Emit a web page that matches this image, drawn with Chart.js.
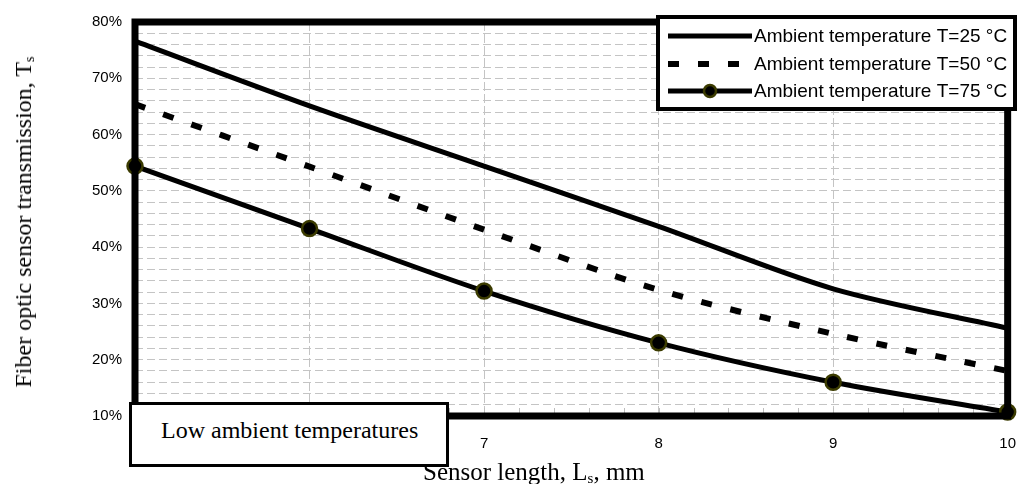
<!DOCTYPE html>
<html>
<head>
<meta charset="utf-8">
<script src="https://cdn.jsdelivr.net/npm/chart.js@4.4.1/dist/chart.umd.min.js"></script>
<style>
  html, body { margin: 0; padding: 0; background: #fff; }
  #wrap { position: relative; width: 1035px; height: 484px; overflow: hidden; }
  #c { position: absolute; left: 0; top: 0; }
  .serif { font-family: "Liberation Serif", "Times New Roman", serif; color: #000; white-space: nowrap; }
  .ytitle { position: absolute; left: 23px; top: 222px; transform: translate(-50%, -50%) rotate(-90deg); font-size: 24px; line-height: 24px; }
  .xtitle { position: absolute; left: 423px; top: 459px; font-size: 25px; line-height: 25px; }
  sub { font-size: 60%; vertical-align: -0.2em; line-height: 0; }
  .note { position: absolute; left: 129px; top: 402px; width: 285px; height: 46px; border: 3px solid #000; background: #fff;
    font-size: 24px; line-height: 24px; padding: 13px 0 0 29px; }
  .legend { position: absolute; left: 656px; top: 15px; width: 353px; height: 88px; border: 4px solid #000; background: #fff; }
  .legend canvas { position: absolute; left: 0; top: 0; }
</style>
</head>
<body>
<div id="wrap">
  <canvas id="c" width="1035" height="484"></canvas>
  <div class="legend"><canvas id="lg" width="353" height="88"></canvas></div>
  <div class="ytitle serif">Fiber optic sensor transmission, T<sub>s</sub></div>
  <div class="xtitle serif">Sensor length, L<sub>s</sub>, mm</div>
  <div class="note serif">Low ambient temperatures</div>
</div>
<script>
// ---- data ----
const sensorLength = [5, 6, 7, 8, 9, 10];
const t25 = [76.6, 65.1, 54.4, 43.7, 32.6, 25.6];
const t50 = [65.4, 54.3, 43.1, 32.4, 24.6, 18.0];
const t75 = [54.4, 43.3, 32.2, 23.0, 16.0, 10.7];
const seriesLabels = ['Ambient temperature T=25 °C', 'Ambient temperature T=50 °C', 'Ambient temperature T=75 °C'];
const yTickValues = [10, 20, 30, 40, 50, 60, 70, 80];
const xTickValues = [5, 6, 7, 8, 9, 10];

const pts = arr => sensorLength.map((x, i) => ({ x: x, y: arr[i] }));

const frame = {
  id: 'frame',
  beforeDatasetsDraw(chart) {
    const { ctx, chartArea: a, scales } = chart;
    ctx.save();
    ctx.strokeStyle = '#bdbdbd'; ctx.lineWidth = 1;
    for (let v = 5.2; v < 10; v += 0.2) {
      const px = Math.round(scales.x.getPixelForValue(v)) + 0.5;
      ctx.beginPath(); ctx.moveTo(px, a.bottom); ctx.lineTo(px, a.bottom - 8); ctx.stroke();
    }
    ctx.restore();
  },
  afterDatasetsDraw(chart) {
    const { ctx, chartArea: a } = chart;
    ctx.save();
    ctx.strokeStyle = '#000'; ctx.lineWidth = 7;
    ctx.strokeRect(a.left, a.top, a.right - a.left, a.bottom - a.top);
    ctx.restore();
  }
};

new Chart(document.getElementById('c'), {
  type: 'line',
  data: {
    datasets: [
      { label: seriesLabels[0], data: pts(t25), borderColor: '#000', borderWidth: 5, pointRadius: 0, tension: 0.3, fill: false },
      { label: seriesLabels[1], data: pts(t50), borderColor: '#000', borderWidth: 6, borderDash: [11, 19], borderCapStyle: 'butt', pointRadius: 0, tension: 0.3, fill: false },
      { label: seriesLabels[2], data: pts(t75), borderColor: '#000', borderWidth: 5, pointRadius: 7.5, pointBackgroundColor: '#000', pointBorderColor: '#3b3b00', pointBorderWidth: 2.5, tension: 0.3, fill: false }
    ]
  },
  options: {
    responsive: false,
    animation: false,
    clip: false,
    layout: { padding: { left: 0, right: 16, top: 19, bottom: 0 } },
    plugins: { legend: { display: false }, tooltip: { enabled: false } },
    scales: {
      x: {
        type: 'linear', min: 5, max: 10,
        afterBuildTicks: s => { s.ticks = xTickValues.map(v => ({ value: v })); },
        afterFit: s => { s.height = 68; },
        border: { display: false, dash: [9, 3] },
        grid: { drawTicks: false, color: ctx => (ctx.tick && ctx.tick.value > 5 && ctx.tick.value < 10) ? '#c4c4c4' : 'rgba(0,0,0,0)', lineWidth: 1 },
        ticks: { padding: 19, color: '#000', font: { family: 'Liberation Sans, Arial, sans-serif', size: 15 } }
      },
      y: {
        type: 'linear', min: 10, max: 80,
        afterBuildTicks: s => { const t = []; for (let v = 10; v <= 80; v += 2) t.push({ value: v }); s.ticks = t; },
        ticks: { autoSkip: false, padding: 13, color: '#000', font: { family: 'Liberation Sans, Arial, sans-serif', size: 15 },
          callback: v => yTickValues.includes(v) ? v + '%' : '' },
        afterFit: s => { s.width = 135; },
        border: { display: false, dash: [8, 4] },
        grid: { drawTicks: false, color: ctx => (ctx.tick && ctx.tick.value > 10 && ctx.tick.value < 80) ? '#c4c4c4' : 'rgba(0,0,0,0)', lineWidth: 1 }
      }
    }
  },
  plugins: [frame]
});

// legend drawn on its own canvas inside the legend box
(function () {
  const c = document.getElementById('lg');
  const g = c.getContext('2d');
  const rows = [17, 45, 72];
  g.font = '19px "Liberation Sans", Arial, sans-serif';
  g.textBaseline = 'middle';
  rows.forEach((y, i) => {
    g.save();
    g.strokeStyle = '#000';
    g.lineWidth = i === 1 ? 6 : 5;
    if (i === 1) g.setLineDash([11, 19]);
    g.beginPath(); g.moveTo(8, y); g.lineTo(92, y); g.stroke();
    g.restore();
    if (i === 2) {
      g.beginPath(); g.arc(50, y, 6, 0, Math.PI * 2); g.fillStyle = '#000'; g.fill();
      g.lineWidth = 2.5; g.strokeStyle = '#3b3b00'; g.stroke();
    }
    g.fillStyle = '#000';
    g.fillText(seriesLabels[i], 94, y + 1);
  });
})();
</script>
</body>
</html>
